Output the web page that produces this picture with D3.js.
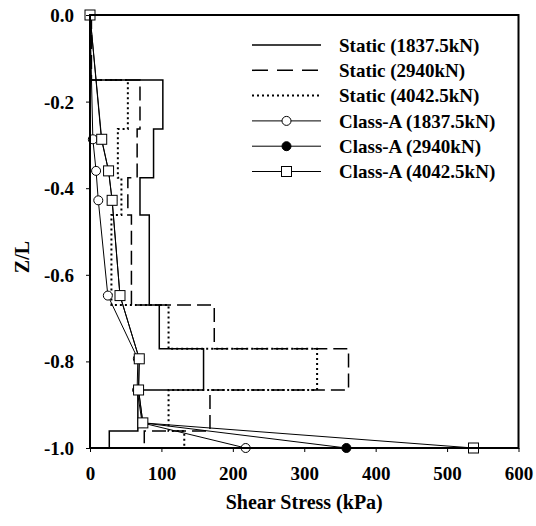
<!DOCTYPE html>
<html>
<head>
<meta charset="utf-8">
<script src="https://cdn.jsdelivr.net/npm/d3@7"></script>
<style>
  html, body { margin: 0; padding: 0; background: #fff; }
  svg { display: block; }
  text { font-family: "Liberation Serif", "Times New Roman", serif; font-weight: bold; fill: #000; }
</style>
</head>
<body>
<svg id="chart" width="536" height="526"></svg>
<script>
// ---------- data ----------
// static step profiles: depth boundaries (Z/L) and the constant value within each layer
const layerBounds = [0, -0.15, -0.263, -0.376, -0.462, -0.670, -0.771, -0.866, -0.961, -1.0];
const static1837 = [0, 102, 89, 70, 83, 97, 159, 67, 27];
const static2940 = [2, 70, 66, 53, 58, 174, 362, 168, 76];
const static4042 = [0, 53, 39, 44, 30, 110, 318, 110, 132];

// Class-A profiles: depths and values
const classDepths = [0, -0.287, -0.360, -0.428, -0.648, -0.794, -0.866, -0.942, -1.0];
const classA1837 = [0, 4, 8.5, 11.6, 25, 67, 66, 73, 218];
const classA2940 = [0, 16, 26, 31, 42, 69, 68, 74, 359];
const classA4042 = [0, 16.4, 26, 31, 42, 69, 68, 74, 537];

const xTicks = [0, 100, 200, 300, 400, 500, 600];
const yTicks = [0, -0.2, -0.4, -0.6, -0.8, -1.0];

const legendLabels = ["Static (1837.5kN)", "Static (2940kN)", "Static (4042.5kN)",
                      "Class-A (1837.5kN)", "Class-A (2940kN)", "Class-A (4042.5kN)"];

// ---------- layout ----------
const svg = d3.select("#chart");
const L = 90, R = 518.5, T = 15, B = 448;
const x = d3.scaleLinear().domain([0, 600]).range([L, R]);
const y = d3.scaleLinear().domain([-1, 0]).range([B, T]);

const staticSeries = [
  { vals: static1837, dash: null, w: 1.5 },
  { vals: static2940, dash: "14,6", w: 1.5 },
  { vals: static4042, dash: "2,3", w: 2 }
];
const classSeries = [
  { vals: classA1837, shape: "circle", fill: "#fff" },
  { vals: classA2940, shape: "circle", fill: "#000" },
  { vals: classA4042, shape: "square", fill: "#fff" }
];

const line = d3.line().x(d => x(d[0])).y(d => y(d[1]));

function stepPoints(vals) {
  const pts = [];
  vals.forEach((v, i) => {
    pts.push([v, layerBounds[i]]);
    pts.push([v, layerBounds[i + 1]]);
  });
  return pts;
}

// static step lines
staticSeries.forEach(s => {
  svg.append("path")
    .attr("d", line(stepPoints(s.vals)))
    .attr("fill", "none")
    .attr("stroke", "#000")
    .attr("stroke-width", s.w)
    .attr("stroke-dasharray", s.dash);
});

// class-A lines and markers
function drawMarker(g, shape, fill, cx, cy) {
  if (shape === "circle") {
    g.append("circle").attr("cx", cx).attr("cy", cy).attr("r", 4.5)
      .attr("fill", fill).attr("stroke", "#000").attr("stroke-width", 1);
  } else {
    g.append("rect").attr("x", cx - 5).attr("y", cy - 5).attr("width", 10).attr("height", 10)
      .attr("fill", fill).attr("stroke", "#000").attr("stroke-width", 1);
  }
}

classSeries.forEach(s => {
  const pts = s.vals.map((v, i) => [v, classDepths[i]]);
  svg.append("path")
    .attr("d", line(pts))
    .attr("fill", "none")
    .attr("stroke", "#000")
    .attr("stroke-width", 1);
});
classSeries.forEach(s => {
  const g = svg.append("g");
  s.vals.forEach((v, i) => drawMarker(g, s.shape, s.fill, x(v), y(classDepths[i])));
});

// frame
svg.append("rect")
  .attr("x", L).attr("y", T).attr("width", R - L).attr("height", B - T)
  .attr("fill", "none").attr("stroke", "#000").attr("stroke-width", 2);

// axes
const yAxis = d3.axisLeft(y).tickValues(yTicks).tickSize(4).tickPadding(12)
  .tickFormat(d => d.toFixed(1));
const gy = svg.append("g").attr("transform", `translate(${L},0)`).call(yAxis);
gy.select(".domain").remove();
gy.selectAll("text").style("font-size", "19px").attr("dy", "0.34em");

const xAxis = d3.axisBottom(x).tickValues(xTicks).tickSize(4).tickPadding(15)
  .tickFormat(d => String(d));
const gx = svg.append("g").attr("transform", `translate(0,${B})`).call(xAxis);
gx.select(".domain").remove();
gx.selectAll("text").style("font-size", "19px");

// axis titles
svg.append("text")
  .attr("x", (L + R) / 2).attr("y", 509)
  .attr("text-anchor", "middle")
  .style("font-size", "20px")
  .text("Shear Stress (kPa)");

svg.append("text")
  .attr("transform", "translate(29,257) rotate(-90)")
  .attr("text-anchor", "middle")
  .style("font-size", "20px")
  .text("Z/L");

// legend
const legX0 = 252, legX1 = 321, legTextX = 339, legY0 = 45, legDy = 25.3;
legendLabels.forEach((lab, i) => {
  const ly = legY0 + i * legDy;
  const g = svg.append("g");
  if (i < 3) {
    g.append("line").attr("x1", legX0).attr("x2", legX1).attr("y1", ly).attr("y2", ly)
      .attr("stroke", "#000").attr("stroke-width", staticSeries[i].w)
      .attr("stroke-dasharray", i === 1 ? "16,9" : staticSeries[i].dash);
  } else {
    const s = classSeries[i - 3];
    g.append("line").attr("x1", legX0).attr("x2", legX1).attr("y1", ly).attr("y2", ly)
      .attr("stroke", "#000").attr("stroke-width", 1);
    drawMarker(g, s.shape, s.fill, (legX0 + legX1) / 2, ly);
  }
  g.append("text").attr("x", legTextX).attr("y", ly).attr("dy", "0.35em")
    .style("font-size", "19px").text(lab);
});
</script>
</body>
</html>
